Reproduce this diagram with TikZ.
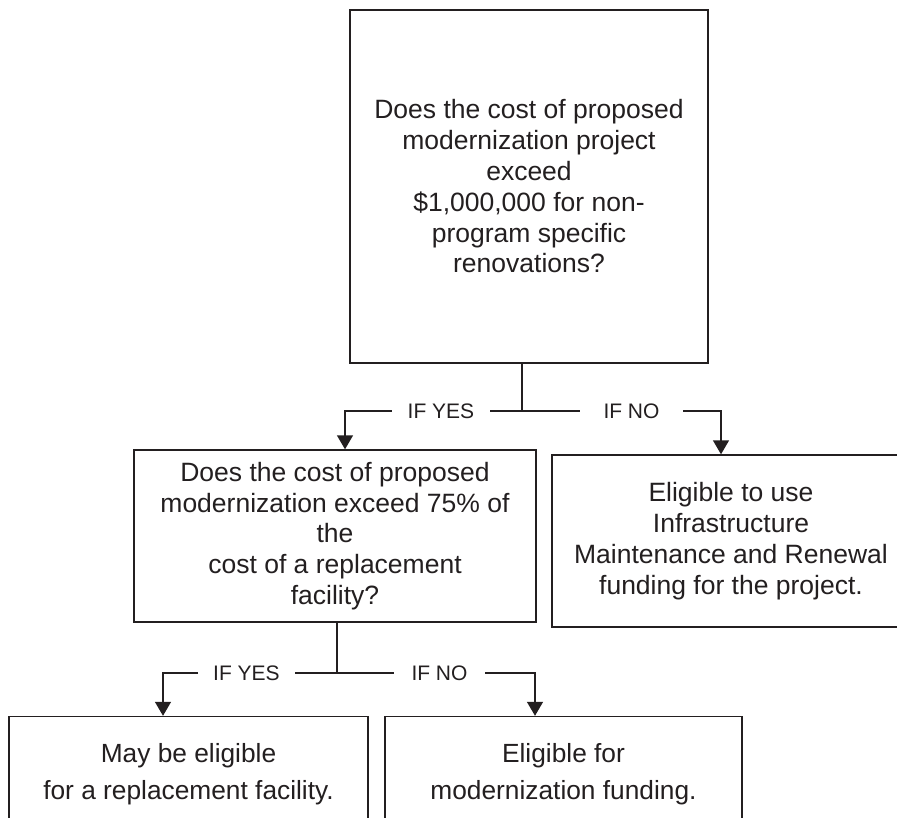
\documentclass[tikz,border=0pt]{standalone}
\usepackage{fontspec}
\setmainfont{Liberation Sans}
\usetikzlibrary{arrows.meta,calc}
\definecolor{ink}{HTML}{231F20}
\begin{document}
\begin{tikzpicture}[x=1pt,y=-1pt,
 box/.style={draw=ink,line width=1.4pt,rectangle,inner sep=0pt,align=center,text=ink,font=\fontsize{26.5}{30.8}\selectfont},
 lbl/.style={inner sep=0pt,inner xsep=16pt,text=ink,font=\fontsize{21}{24}\selectfont},
 wire/.style={draw=ink,line width=1.4pt},
 arr/.style={wire,-{Triangle[width=16pt,length=14pt]}}]
\clip (0,0) rectangle (897,818);
\fill[white] (0,0) rectangle (897,818);
\node[box,line width=2.2pt,minimum width=358pt,minimum height=353pt] (q1) at (529,186.5)
 {Does the cost of proposed\\ modernization project\\ exceed\\ \$1,000,000 for non-\\ program specific\\ renovations?};
\node[box,minimum width=402pt,minimum height=172pt] (q2) at (335,536)
 {Does the cost of proposed\\ modernization exceed 75\% of\\ the\\ cost of a replacement\\ facility?};
\node[box,minimum width=358pt,minimum height=172pt] (r1) at (731,541)
 {Eligible to use\\ Infrastructure\\ Maintenance and Renewal\\ funding for the project.};
\node[box,font=\fontsize{26.3}{36.7}\selectfont,minimum width=359pt,minimum height=116pt] (r2) at (188.5,774.5)
 {May be eligible\\ for a replacement facility.};
\node[box,font=\fontsize{26.3}{36.7}\selectfont,minimum width=357pt,minimum height=116pt] (r3) at (563.5,774.5)
 {Eligible for\\ modernization funding.};
% first branch
\coordinate (j1) at (522,411);
\draw[wire] (q1.south -| j1) -- (j1);
\node[lbl] (y1) at (441,411) {IF YES};
\node[lbl,inner xsep=23.5pt] (n1) at (631.5,411) {IF NO};
\coordinate (t1) at (345,411);
\coordinate (t2) at (721,411);
\draw[wire] (j1) -- (y1.east);
\draw[arr] (y1.west) -- (t1) -- (t1 |- q2.north);
\draw[wire] (j1) -- (n1.west);
\draw[arr] (n1.east) -- (t2) -- (t2 |- r1.north);
% second branch
\coordinate (j2) at (337,673);
\draw[wire] (q2.south -| j2) -- (j2);
\node[lbl,inner xsep=15pt] (y2) at (246.5,673) {IF YES};
\node[lbl,inner xsep=17.5pt] (n2) at (439.5,673) {IF NO};
\coordinate (t3) at (163,673);
\coordinate (t4) at (535,673);
\draw[wire] (j2) -- (y2.east);
\draw[arr] (y2.west) -- (t3) -- (t3 |- r2.north);
\draw[wire] (j2) -- (n2.west);
\draw[arr] (n2.east) -- (t4) -- (t4 |- r3.north);
\end{tikzpicture}
\end{document}
